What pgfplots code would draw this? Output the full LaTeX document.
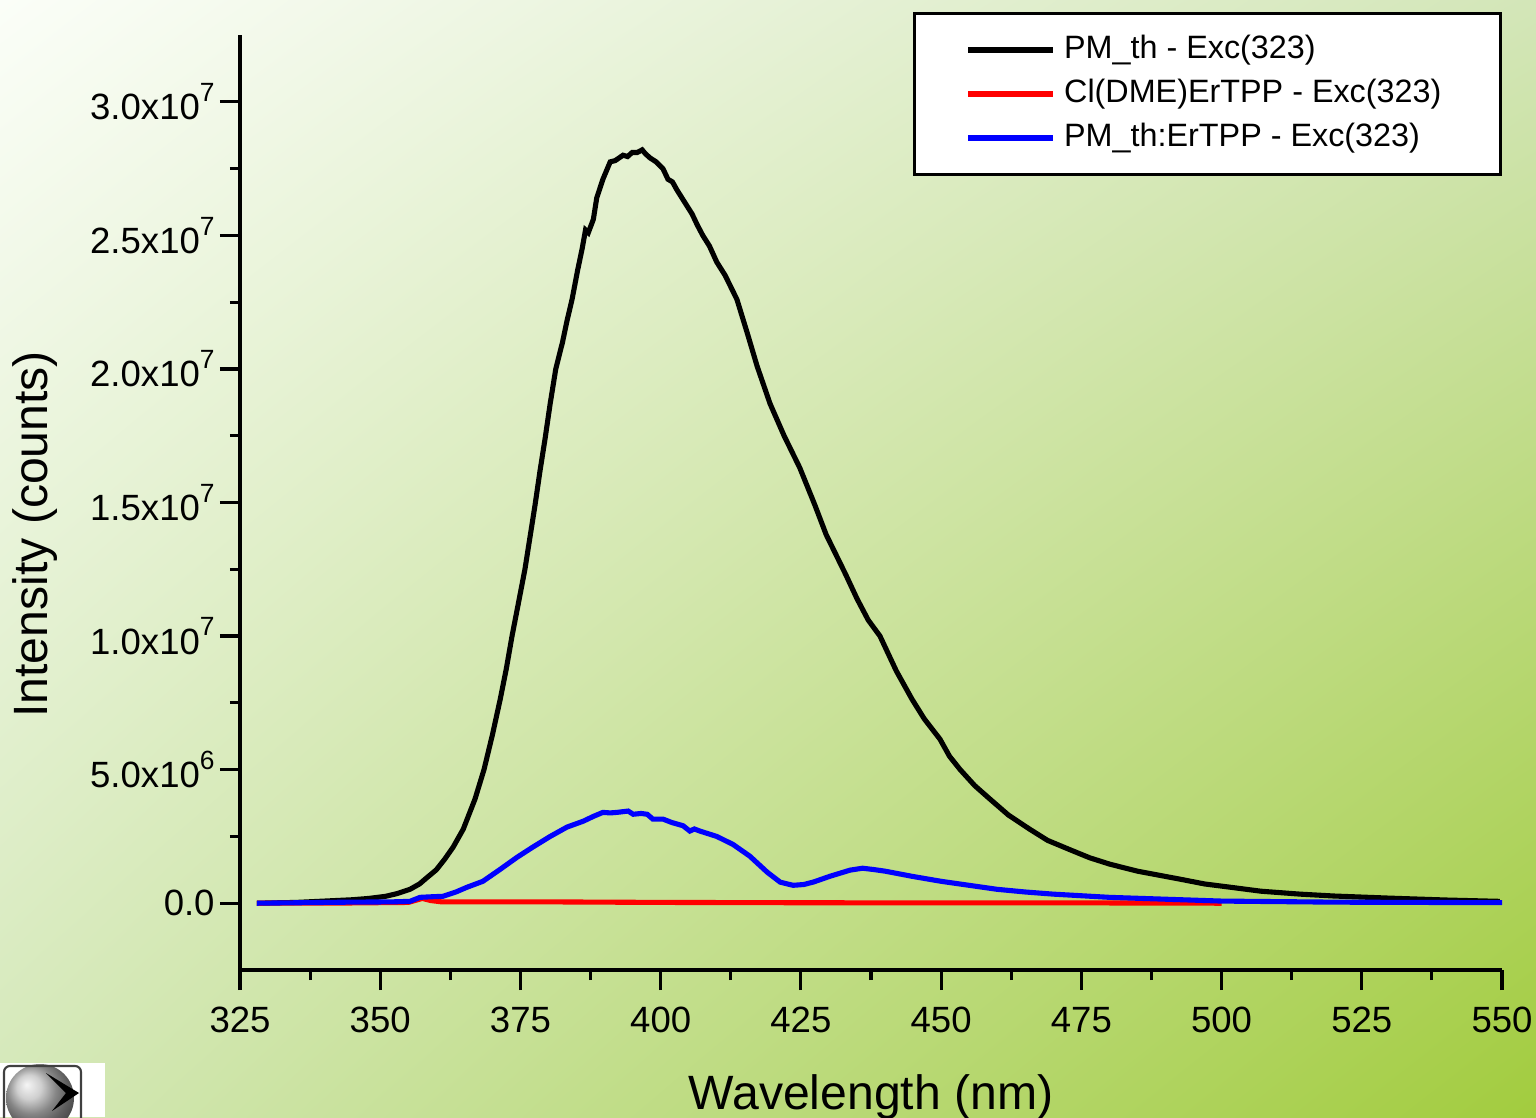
\documentclass[border=0pt]{standalone}
\usepackage{pgfplots}
\pgfplotsset{compat=1.18}
\usetikzlibrary{shadings}
\usepackage{fontspec}
\setmainfont{Liberation Sans}
\definecolor{bgUL}{RGB}{251,254,248}
\definecolor{bgUR}{RGB}{211,230,184}
\definecolor{bgLL}{RGB}{212,232,184}
\definecolor{bgLR}{RGB}{162,204,62}
\definecolor{pblue}{RGB}{0,0,255}
\definecolor{pred}{RGB}{255,0,0}
\newcommand{\sx}[1]{\raisebox{0.95ex}{\fontsize{7.5}{8}\selectfont #1}}
\begin{document}
\begin{tikzpicture}[x=1mm,y=1mm]
\shade[upper left=bgUL, upper right=bgUR, lower left=bgLL, lower right=bgLR] (0,0) rectangle (153.6,111.7);
\useasboundingbox (0,0) rectangle (153.6,111.7);
% logo
\fill[white] (0,0) rectangle (10.5,5.4);
\begin{scope}
\clip (0,0) rectangle (10.5,5.4);
\shade[ball color=gray!50] (4.0,1.9) circle (3.4);
\fill[black] (4.6,4.4) -- (7.9,2.4) -- (5.2,0.6) -- (6.6,2.4) -- cycle;
\draw[black!75, line width=0.6pt, rounded corners=0.6mm] (0.4,-1) rectangle (8.1,5.1);
\end{scope}
\begin{axis}[
  at={(24mm,14.7mm)}, anchor=south west, scale only axis,
  width=126.2mm, height=93.5mm,
  xmin=325, xmax=550, ymin=-2.5, ymax=32.5,
  axis x line=bottom, axis y line=left,
  axis line style={-, line width=0.9pt, black},
  tick align=outside, major tick length=2mm, minor tick length=1mm,
  every tick/.style={black, line width=0.9pt},
  xtick={325,350,...,550}, minor x tick num=1,
  ytick={0,5,10,15,20,25,30}, minor y tick num=1,
  yticklabels={0.0, 5.0x10\sx{6}, 1.0x10\sx{7}, 1.5x10\sx{7}, 2.0x10\sx{7}, 2.5x10\sx{7}, 3.0x10\sx{7}},
  /pgf/number format/assume math mode=true,
  tick label style={font=\fontsize{10.4}{12}\selectfont},
  yticklabel style={xshift=0.7mm},
  xticklabel style={yshift=-0.5mm},
  xlabel={Wavelength (nm)}, ylabel={Intensity (counts)},
  label style={font=\fontsize{13.7}{16}\selectfont},
  xlabel style={at={(axis description cs:0.5,-0.1497)}, anchor=base},
  ylabel style={at={(axis description cs:-0.1624,0.466)}, anchor=center},
  legend style={at={(rel axis cs:1,1)}, anchor=north east, xshift=0mm, yshift=2.3mm,
    draw=black, line width=0.9pt, fill=white, inner xsep=5.1mm, inner ysep=1.45mm,
    font=\fontsize{9.2}{11}\selectfont, row sep=0pt, column sep=0pt,
    nodes={text height=2.4mm, text depth=0.7mm, inner ysep=0.65mm, inner xsep=0.8mm}},
  legend cell align=left,
  legend image code/.code={\draw[#1, line width=1.6pt] (0mm,0mm) -- (8.5mm,0mm);},
]
\addplot[black, line width=1.45pt] coordinates {
(328,0) (335,0.03) (340,0.08) (345,0.13) (348,0.18) (351,0.26) (353,0.36) (355.3,0.52)
(357,0.72) (358,0.9) (360,1.25) (361.5,1.65) (363,2.1) (364.8,2.77) (366.9,3.9)
(368.5,5.0) (370,6.3) (371.4,7.64) (372.5,8.8) (373.5,10.0) (374.7,11.3) (375.8,12.5)
(376.7,13.7) (377.6,14.9) (378.5,16.2) (379.4,17.4) (380.3,18.7) (381.3,20.0) (382.5,21.0)
(383.3,21.8) (384.2,22.6) (385.2,23.7) (386.0,24.5) (386.6,25.2) (387.1,25.1) (388.0,25.6)
(388.6,26.4) (389.7,27.1) (391.0,27.75) (391.9,27.8) (392.6,27.9) (393.3,28.0) (394.1,27.95)
(394.9,28.1) (395.8,28.1) (396.7,28.2) (397.3,28.05) (398.1,27.9) (399.2,27.75) (400.4,27.5)
(401.3,27.1) (402.1,27.0) (402.9,26.7) (403.8,26.4) (404.7,26.1) (405.6,25.8) (406.5,25.4)
(407.5,25.0) (408.7,24.6) (410,24.0) (411.5,23.5) (413.6,22.6) (415.5,21.3) (417.2,20.1)
(419.5,18.7) (422,17.5) (424.8,16.3) (427.5,14.9) (429.5,13.8) (431.6,12.9) (433,12.3)
(435.0,11.4) (437,10.6) (439.1,10.0) (442,8.7) (444.8,7.64) (447,6.9) (449.8,6.14)
(451.5,5.5) (453.4,5.0) (456,4.4) (458.7,3.9) (462,3.3) (465.8,2.77) (469,2.35) (473,2.0)
(476.5,1.7) (480.1,1.46) (485,1.2) (492.6,0.9) (497,0.72) (501.5,0.6) (507,0.45) (514,0.34)
(520,0.27) (530,0.19) (540,0.12) (549.6,0.07)
};
\addlegendentry{PM\_th - Exc(323)}
\addplot[pred, line width=1.45pt] coordinates {
(328,0) (345,0.01) (355,0.03) (356.5,0.12) (357.5,0.18) (359,0.1) (361,0.05) (370,0.05)
(380,0.05) (390,0.04) (400,0.03) (420,0.02) (450,0.01) (480,0.01) (500,0)
};
\addlegendentry{Cl(DME)ErTPP - Exc(323)}
\addplot[pblue, line width=1.45pt] coordinates {
(328,0) (344.6,0.04) (352,0.05) (355.3,0.07) (357.1,0.22) (359,0.24) (361.2,0.26) (363.5,0.42)
(365.5,0.6) (368.3,0.82) (371.4,1.27) (374.4,1.72) (377.2,2.1) (380.3,2.5) (383.3,2.85)
(386.2,3.07) (388,3.25) (389.7,3.4) (391,3.38) (392.2,3.4) (394.2,3.45) (395.1,3.33)
(396.5,3.36) (397.6,3.33) (398.6,3.15) (400.4,3.15) (402,3.02) (404,2.9) (405.2,2.7)
(406,2.78) (407,2.7) (410,2.5) (412.9,2.2) (415.9,1.76) (419,1.16) (421.3,0.79) (423.6,0.67)
(425.5,0.7) (427.2,0.79) (430.2,1.01) (433.8,1.24) (436,1.31) (438,1.26) (440,1.2) (445,1.0)
(450,0.82) (455,0.67) (460,0.52) (465,0.42) (470,0.34) (480,0.22) (490,0.15) (500,0.08)
(520,0.04) (550,0.02)
};
\addlegendentry{PM\_th:ErTPP - Exc(323)}
\end{axis}
\end{tikzpicture}
\end{document}
